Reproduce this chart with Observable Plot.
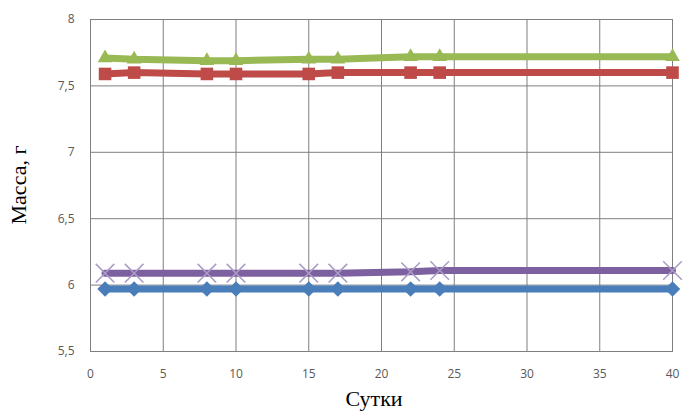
<!DOCTYPE html>
<html><head><meta charset="utf-8">
<script src="https://cdn.jsdelivr.net/npm/d3@7"></script>
<script src="https://cdn.jsdelivr.net/npm/@observablehq/plot@0.6"></script>
<style>body{margin:0;background:#fff}</style>
</head><body><div id="chart"></div>
<script>
const days = [1, 3, 8, 10, 15, 17, 22, 24, 40];
const seriesBlue = [5.97, 5.97, 5.97, 5.97, 5.97, 5.97, 5.97, 5.97, 5.97];
const seriesRed = [7.59, 7.60, 7.59, 7.59, 7.59, 7.60, 7.60, 7.60, 7.60];
const seriesGreen = [7.71, 7.70, 7.69, 7.69, 7.70, 7.70, 7.72, 7.72, 7.72];
const seriesPurple = [6.09, 6.09, 6.09, 6.09, 6.09, 6.09, 6.10, 6.11, 6.11];
const xTicks = [0, 5, 10, 15, 20, 25, 30, 35, 40];
const yTicks = [5.5, 6, 6.5, 7, 7.5, 8];
const yTitle = "Масса, г";
const xTitle = "Сутки";

const series = [
  {name: "s1", vals: seriesBlue, color: "#4a7ebb", symbol: "diamond2", r: 7},
  {name: "s2", vals: seriesRed, color: "#be4b48", symbol: "square2", r: 8},
  {name: "s3", vals: seriesGreen, color: "#98b954", symbol: "triangle2", r: 7},
  {name: "s4", vals: seriesPurple, color: "#7d60a0", symbol: "times", r: 8.5}
];
const fmt = d => String(d).replace(".", ",");

const marks = [
  Plot.ruleX(xTicks, {x: d => d, stroke: "#7f7f7f", strokeWidth: 1}),
  Plot.ruleY(yTicks, {y: d => d, stroke: "#7f7f7f", strokeWidth: 1}),
  Plot.frame({stroke: "#7f7f7f"}),
  Plot.axisX(xTicks, {tickSize: 0, tickPadding: 18, tickFormat: fmt, fontSize: 12, fill: "#595959", fontFamily: "Open Sans, sans-serif", label: null}),
  Plot.axisY(yTicks, {tickSize: 0, tickPadding: 16, tickFormat: fmt, fontSize: 12, fill: "#595959", fontFamily: "Open Sans, sans-serif", label: null}),
];
for (const s of series) {
  const data = days.map((d, i) => ({x: d, y: s.vals[i]}));
  marks.push(Plot.line(data, {x: "x", y: "y", stroke: s.color, strokeWidth: 7}));
  if (s.symbol === "times") {
    marks.push(Plot.dot(data, {x: "x", y: "y", symbol: "times", r: s.r, stroke: "#a99bc4", strokeWidth: 1.5}));
  } else {
    marks.push(Plot.dot(data, {x: "x", y: "y", symbol: s.symbol, r: s.r, fill: s.color, stroke: "none"}));
  }
}
const chart = Plot.plot({
  width: 684, height: 417,
  marginLeft: 90, marginRight: 12, marginTop: 19, marginBottom: 66,
  x: {domain: [0, 40]},
  y: {domain: [5.5, 8]},
  style: {background: "#fff", overflow: "visible"},
  marks
});
const svg = d3.select(chart);
svg.append("text")
  .attr("transform", "translate(26,185) rotate(-90)")
  .attr("text-anchor", "middle")
  .attr("font-family", "Liberation Serif, Times New Roman, serif")
  .attr("font-size", 22)
  .attr("fill", "#000")
  .text(yTitle);
svg.append("text")
  .attr("x", 374).attr("y", 406)
  .attr("text-anchor", "middle")
  .attr("font-family", "Liberation Serif, Times New Roman, serif")
  .attr("font-size", 22)
  .attr("fill", "#000")
  .text(xTitle);
document.getElementById("chart").appendChild(chart);
</script></body></html>
